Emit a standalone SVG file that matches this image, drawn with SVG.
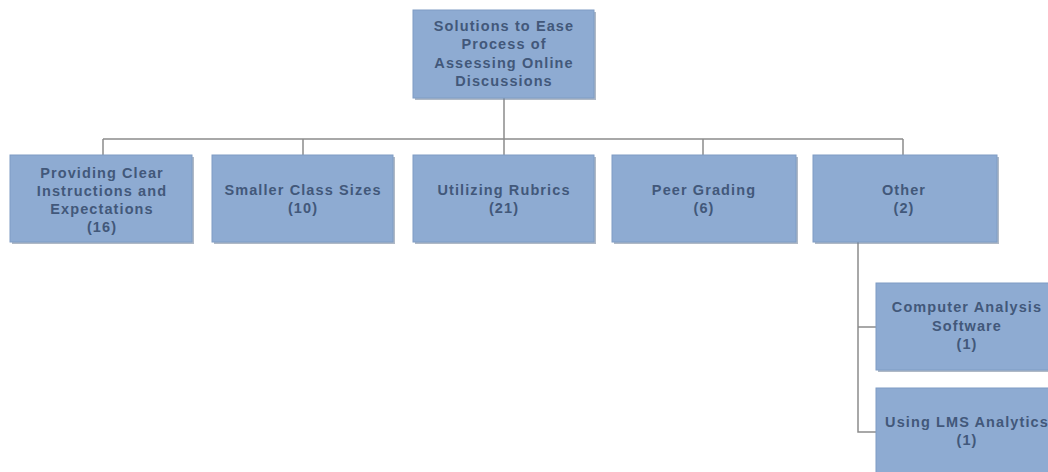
<svg xmlns="http://www.w3.org/2000/svg" width="1048" height="472" viewBox="0 0 1048 472">
<defs>
<style>
.box{fill:#8eabd2;stroke:#7f9cc4;stroke-width:1}
.sh{fill:#6d7f98;opacity:0.55}
.t{font-family:"Liberation Sans",Arial,sans-serif;font-weight:bold;font-size:14.5px;letter-spacing:1.1px;fill:#42587a;text-anchor:middle}
.ln{stroke:#8c8c8c;stroke-width:1.5;fill:none}
</style>
</defs>
<rect width="1048" height="472" fill="#ffffff"/>
<g id="connectors">
<path class="ln" d="M504,98 V155 M103,139 H903 M103,139 V155 M303,139 V155 M703,139 V155 M903,139 V155 M858,242 V432 H876 M858,327 H876"/>
</g>
<g id="root">
<rect class="sh" x="415" y="12" width="181" height="88"/>
<rect class="box" x="413" y="10" width="181" height="88"/>
<text class="t" x="504" y="30.5">Solutions to Ease</text>
<text class="t" x="504" y="49">Process of</text>
<text class="t" x="504" y="67.5">Assessing Online</text>
<text class="t" x="504" y="86">Discussions</text>
</g>
<g id="n1">
<rect class="sh" x="12" y="157" width="182" height="87"/>
<rect class="box" x="10" y="155" width="182" height="87"/>
<text class="t" x="102" y="177.5">Providing Clear</text>
<text class="t" x="102" y="195.5">Instructions and</text>
<text class="t" x="102" y="213.5">Expectations</text>
<text class="t" x="102" y="231.5">(16)</text>
</g>
<g id="n2">
<rect class="sh" x="214" y="157" width="181" height="87"/>
<rect class="box" x="212" y="155" width="181" height="87"/>
<text class="t" x="303" y="195">Smaller Class Sizes</text>
<text class="t" x="303" y="213">(10)</text>
</g>
<g id="n3">
<rect class="sh" x="415" y="157" width="181" height="87"/>
<rect class="box" x="413" y="155" width="181" height="87"/>
<text class="t" x="504" y="195">Utilizing Rubrics</text>
<text class="t" x="504" y="213">(21)</text>
</g>
<g id="n4">
<rect class="sh" x="614" y="157" width="184" height="87"/>
<rect class="box" x="612" y="155" width="184" height="87"/>
<text class="t" x="704" y="195">Peer Grading</text>
<text class="t" x="704" y="213">(6)</text>
</g>
<g id="n5">
<rect class="sh" x="815" y="157" width="184" height="87"/>
<rect class="box" x="813" y="155" width="184" height="87"/>
<text class="t" x="904" y="195">Other</text>
<text class="t" x="904" y="213">(2)</text>
</g>
<g id="n6">
<rect class="sh" x="878" y="285" width="182" height="87"/>
<rect class="box" x="876" y="283" width="182" height="87"/>
<text class="t" x="967" y="312">Computer Analysis</text>
<text class="t" x="967" y="330.5">Software</text>
<text class="t" x="967" y="349">(1)</text>
</g>
<g id="n7">
<rect class="sh" x="878" y="390" width="182" height="87"/>
<rect class="box" x="876" y="388" width="182" height="87"/>
<text class="t" x="967" y="427">Using LMS Analytics</text>
<text class="t" x="967" y="445">(1)</text>
</g>
</svg>
